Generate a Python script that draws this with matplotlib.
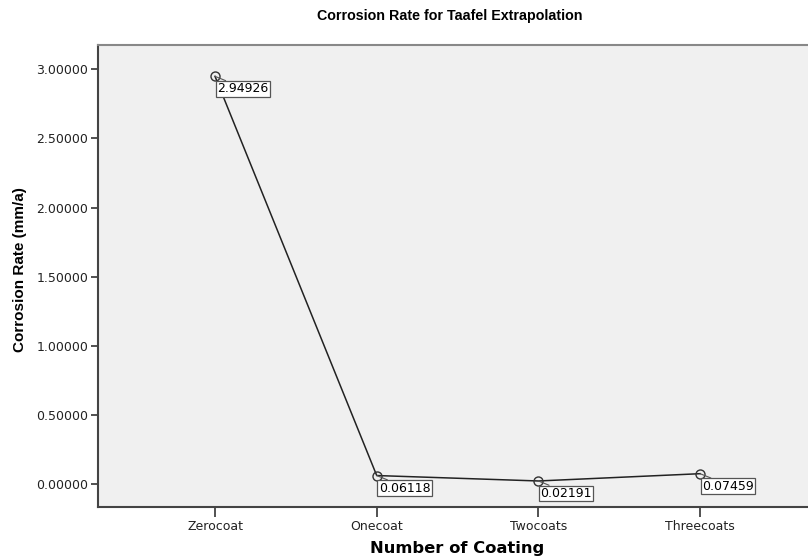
import matplotlib
matplotlib.use("Agg")
import matplotlib.pyplot as plt
from matplotlib.ticker import FormatStrFormatter

categories = ["Zerocoat", "Onecoat", "Twocoats", "Threecoats"]
rates = [2.94926, 0.06118, 0.02191, 0.07459]
yticks = [0.0, 0.5, 1.0, 1.5, 2.0, 2.5, 3.0]

plt.rcParams['font.family'] = ['DejaVu Sans']

fig = plt.figure(figsize=(8.08, 5.58), dpi=100)
ax = fig.add_axes([98/808, 51/558, 1 - 98/808, (507-45)/558])
ax.set_facecolor("#F0F0F0")

x = list(range(len(categories)))
ax.plot(x, rates, color="#222222", lw=1.1, marker="o", ms=6.5,
        mfc="none", mec="#333333", mew=1.0, zorder=3)

for xi, v in zip(x, rates):
    ax.annotate(f"{v:.5f}", xy=(xi, v), xytext=(2, -6), textcoords="offset pixels",
                ha="left", va="top", fontsize=9, color="black",
                bbox=dict(boxstyle="square,pad=0.1", fc="white", ec="#555555", lw=0.9),
                arrowprops=dict(arrowstyle="-", color="#555555", lw=0.8,
                                relpos=(0.25, 1.0), shrinkA=0, shrinkB=0),
                zorder=4)

ax.set_xlim(-0.7236, 3.667)
ax.set_ylim(-0.1664, 3.176)
ax.set_xticks(x)
ax.set_xticklabels(categories)
ax.set_yticks(yticks)
ax.yaxis.set_major_formatter(FormatStrFormatter("%.5f"))

ax.tick_params(axis="y", direction="out", length=5, width=1.2, color="#333333",
               labelsize=9, labelcolor="#222222", pad=2)
ax.tick_params(axis="x", direction="out", length=7, width=1.2, color="#333333",
               labelsize=9, labelcolor="#222222", pad=2)

ax.spines["right"].set_visible(False)
ax.spines["top"].set_color("#888888")
ax.spines["top"].set_linewidth(1.5)
for s in ("left", "bottom"):
    ax.spines[s].set_color("#444444")
    ax.spines[s].set_linewidth(1.5)

ax.set_xlabel("Number of Coating", fontsize=11.8, fontweight="bold", va="center")
ax.xaxis.set_label_coords(0.5056, -(548 - 507) / 462)
ax.set_ylabel("Corrosion Rate (mm/a)", fontsize=11, fontweight="bold",
              va="center", family=["Liberation Sans", "DejaVu Sans"])
ax.yaxis.set_label_coords((20 - 98) / 710, (507 - 270) / 462)
fig.text(449.5 / 808, 1 - 16/558, "Corrosion Rate for Taafel Extrapolation",
         ha="center", va="center", fontsize=10.3, fontweight="bold",
         family=["Liberation Sans", "DejaVu Sans"])

fig.savefig("out.png", dpi=100)
